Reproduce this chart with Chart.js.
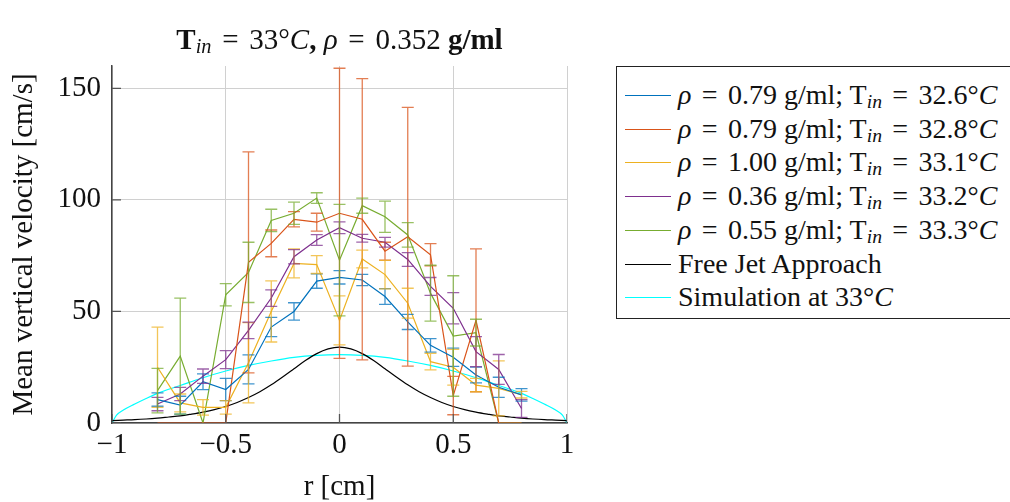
<!DOCTYPE html>
<html>
<head>
<meta charset="utf-8">
<script src="https://cdn.jsdelivr.net/npm/chart.js@4"></script>
<style>
body { margin:0; background:#fff; font-family:'Liberation Serif', 'Times New Roman', serif; color:#111; }
#wrap { position:relative; width:1010px; height:502px; overflow:hidden; }
#plot { position:absolute; left:0; top:0; width:600px; height:502px; }
#title { position:absolute; left:112px; width:455px; top:22px; text-align:center; font-size:29px; line-height:34px; white-space:nowrap; }
#title sub, .row sub { font-size:0.7em; position:relative; top:4px; vertical-align:baseline; }
.eq { margin:0 0.12em; }
#legend { position:absolute; left:616px; top:66px; width:420px; height:251px; border:1px solid #222; }
.row { position:absolute; left:8px; height:34px; line-height:34px; font-size:28px; white-space:nowrap; }
.sw { position:absolute; left:0; top:17px; width:46px; height:0; border-top:1px solid; }
.txt { position:absolute; left:53px; top:0; }
</style>
</head>
<body>
<div id="wrap">
  <div id="plot"><canvas id="chart"></canvas></div>
  <div id="title"><b>T</b><sub><i>in</i></sub> <span class="eq">=</span> 33°<i>C</i><b>,</b> <i>ρ</i> <span class="eq">=</span> 0.352 <b>g/ml</b></div>
  <div id="legend"></div>
</div>
<script>
// measurement positions (cm)
const radius = [-0.8, -0.7, -0.6, -0.5, -0.4, -0.3, -0.2, -0.1, 0, 0.1, 0.2, 0.3, 0.4, 0.5, 0.6, 0.7, 0.8];

// mean vertical velocity (cm/s) and error for each run
const blue      = [10.5, 8, 18.5, 15, 24, 43, 50, 63.6, 65.3, 64.1, 56.7, 45.3, 34.8, 29.5, 21.5, 16, 12.6];
const blueErr   = [3, 4, 3.5, 5, 6.5, 4.3, 3.9, 3.2, 3, 2.5, 3.5, 3.4, 3, 4.1, 3.5, 4.5, 2.8];
const orange    = [0, 0, 0, 0, 72, 80.5, 91.3, 90, 94, 91.3, 77, 83.5, 75.4, 12.3, 46, 0, 0];
const orangeErr = [0, 0, 0, 0, 49.5, 6, 3.4, 4, 65, 63, 4, 58, 5, 8.6, 32, 0, 0];
const yellow    = [25, 9, 7, 7, 27, 50, 71.5, 71, 46, 73.5, 66.5, 53.7, 27.5, 25, 17, 15.5, 12.7];
const yellowErr = [18, 4, 3.5, 3, 18, 13.7, 6.5, 4, 11, 4, 6.4, 6.7, 3.7, 8, 3, 12.3, 1.5];
const purple    = [8.5, 13, 21, 28.4, 41.5, 56, 74.5, 82, 87.5, 82.8, 81, 73.3, 61.2, 51.4, 32, 24, 6.5];
const purpleErr = [3, 3, 3.2, 4, 3.7, 3.7, 3.2, 2.4, 2.6, 1.7, 2.2, 3.1, 4, 7, 6.7, 6.7, 4];
const green     = [14.5, 30, 0, 57.5, 67.5, 90.8, 94, 100.8, 73, 97.4, 92.4, 84.3, 58.2, 39, 40.5, 0, 0];
const greenErr  = [10, 26, 0, 5, 13.5, 5, 5, 2.4, 25, 3.4, 7, 5.5, 12.5, 27, 6, 0, 0];

// free jet approach curve
const jetR = [-1, -0.95, -0.9, -0.85, -0.8, -0.75, -0.7, -0.65, -0.6, -0.55, -0.5, -0.45, -0.4, -0.35, -0.3, -0.25, -0.2, -0.15, -0.1, -0.05,
              0, 0.05, 0.1, 0.15, 0.2, 0.25, 0.3, 0.35, 0.4, 0.45, 0.5, 0.55, 0.6, 0.65, 0.7, 0.75, 0.8, 0.85, 0.9, 0.95, 1];
const jetV = [1.1, 1.3, 1.5, 1.8, 2.2, 2.7, 3.2, 4.0, 4.9, 6.0, 7.4, 9.2, 11.4, 14.0, 17.1, 20.6, 24.3, 28.0, 31.1, 33.2,
              34, 33.2, 31.1, 28.0, 24.3, 20.6, 17.1, 14.0, 11.4, 9.2, 7.4, 6.0, 4.9, 4.0, 3.2, 2.7, 2.2, 1.8, 1.5, 1.3, 1.1];

// simulation curve
const simR = [-1, -0.98, -0.95, -0.9, -0.85, -0.8, -0.7, -0.6, -0.5, -0.4, -0.3, -0.2, -0.1, 0, 0.1, 0.2, 0.3, 0.4, 0.5, 0.6, 0.7, 0.8, 0.85, 0.9, 0.95, 0.98, 1];
const simV = [0, 3.5, 5.8, 8.5, 11, 13.3, 16.8, 20.3, 23.3, 25.8, 27.8, 29.4, 30.3, 30.6, 30.3, 29.4, 27.8, 25.8, 23.3, 20.3, 16.8, 13.3, 11, 8.5, 5.8, 3.5, 0];

const xTicks = [-1, -0.5, 0, 0.5, 1];
const xTickLabels = ['\u22121', '\u22120.5', '0', '0.5', '1'];
const yTicks = [0, 50, 100, 150];

const EQ = '<span class="eq">=</span>';
const seriesNames = [
  '<i>ρ</i> ' + EQ + ' 0.79 g/ml; T<sub><i>in</i></sub> ' + EQ + ' 32.6°<i>C</i>',
  '<i>ρ</i> ' + EQ + ' 0.79 g/ml; T<sub><i>in</i></sub> ' + EQ + ' 32.8°<i>C</i>',
  '<i>ρ</i> ' + EQ + ' 1.00 g/ml; T<sub><i>in</i></sub> ' + EQ + ' 33.1°<i>C</i>',
  '<i>ρ</i> ' + EQ + ' 0.36 g/ml; T<sub><i>in</i></sub> ' + EQ + ' 33.2°<i>C</i>',
  '<i>ρ</i> ' + EQ + ' 0.55 g/ml; T<sub><i>in</i></sub> ' + EQ + ' 33.3°<i>C</i>',
  'Free Jet Approach',
  'Simulation at 33°<i>C</i>'
];
const colors = ['#0072BD', '#D95319', '#EDB120', '#7E2F8E', '#77AC30', '#000000', '#00FFFF'];

function pts(xs, ys) { return xs.map((x, i) => ({ x: x, y: ys[i] })); }

function run(i, vals, errs) {
  return {
    label: seriesNames[i], data: pts(radius, vals), errors: errs,
    borderColor: colors[i], borderWidth: 1.2, pointRadius: 0, tension: 0
  };
}

const errorBars = {
  id: 'errorBars',
  afterDatasetsDraw(chart) {
    const ctx = chart.ctx, xs = chart.scales.x, ys = chart.scales.y, a = chart.chartArea;
    ctx.save();
    ctx.beginPath();
    ctx.rect(a.left, a.top - 1, a.right - a.left, a.bottom - a.top + 1);
    ctx.clip();
    chart.data.datasets.forEach(ds => {
      if (!ds.errors) return;
      ctx.strokeStyle = ds.borderColor;
      ctx.globalAlpha = 0.75;
      ctx.lineWidth = 1.3;
      ds.data.forEach((p, i) => {
        const e = ds.errors[i];
        if (!e) return;
        const x = xs.getPixelForValue(p.x);
        const y1 = ys.getPixelForValue(p.y + e);
        const y2 = ys.getPixelForValue(p.y - e);
        ctx.beginPath();
        ctx.moveTo(x, y1); ctx.lineTo(x, y2);
        ctx.moveTo(x - 6, y1); ctx.lineTo(x + 6, y1);
        ctx.moveTo(x - 6, y2); ctx.lineTo(x + 6, y2);
        ctx.stroke();
      });
    });
    // inward tick marks like the original axes
    ctx.globalAlpha = 1;
    ctx.strokeStyle = '#555';
    ctx.lineWidth = 1.3;
    ctx.beginPath();
    yTicks.forEach(v => {
      const y = ys.getPixelForValue(v);
      ctx.moveTo(a.left, y); ctx.lineTo(a.left + 9, y);
    });
    xTicks.forEach(v => {
      const x = xs.getPixelForValue(v);
      ctx.moveTo(x, a.bottom); ctx.lineTo(x, a.bottom - 9);
    });
    ctx.stroke();
    ctx.restore();
  }
};

const serif = "'Liberation Serif', 'Times New Roman', serif";
const tickFont = { family: serif, size: 29 };
const labelFont = { family: serif, size: 29, lineHeight: 1 };

new Chart(document.getElementById('chart').getContext('2d'), {
  type: 'line',
  data: {
    datasets: [
      run(0, blue, blueErr),
      run(1, orange, orangeErr),
      run(2, yellow, yellowErr),
      run(3, purple, purpleErr),
      run(4, green, greenErr),
      { label: seriesNames[5], data: pts(jetR, jetV), borderColor: colors[5], borderWidth: 1.2, pointRadius: 0, cubicInterpolationMode: 'monotone' },
      { label: seriesNames[6], data: pts(simR, simV), borderColor: colors[6], borderWidth: 1.2, pointRadius: 0, cubicInterpolationMode: 'monotone' }
    ]
  },
  options: {
    responsive: true,
    maintainAspectRatio: false,
    animation: false,
    layout: { padding: { top: 66, right: 33, left: 0, bottom: 0 } },
    plugins: { legend: { display: false }, tooltip: { enabled: false } },
    scales: {
      x: {
        type: 'linear', min: -1, max: 1,
        afterBuildTicks: s => { s.ticks = xTicks.map(v => ({ value: v })); },
        afterFit: s => { s.height = 79; },
        ticks: { color: '#111', font: tickFont, padding: 5, maxRotation: 0,
                 callback: v => xTickLabels[xTicks.indexOf(v)] },
        grid: { color: '#d0d0d0', lineWidth: 1, drawTicks: false },
        border: { color: '#444', width: 1.5 },
        title: { display: true, text: 'r [cm]', color: '#111', font: labelFont, padding: { top: 0, bottom: 0 } }
      },
      y: {
        min: 0, max: 160,
        afterBuildTicks: s => { s.ticks = yTicks.map(v => ({ value: v })); },
        afterFit: s => { s.width = 112; },
        ticks: { color: '#111', font: tickFont, padding: 11 },
        grid: { color: '#d0d0d0', lineWidth: 1, drawTicks: false },
        border: { color: '#444', width: 1.5 },
        title: { display: true, text: 'Mean vertical velocity [cm/s]', color: '#111', font: labelFont, padding: { top: 10, bottom: 0 } }
      }
    }
  },
  plugins: [errorBars]
});

// legend with subscripts as html text
const leg = document.getElementById('legend');
seriesNames.forEach((name, i) => {
  const row = document.createElement('div');
  row.className = 'row';
  row.style.top = Math.round(11 + i * 33.7) + 'px';
  row.innerHTML = '<span class="sw" style="border-color:' + colors[i] + '"></span><span class="txt">' + name + '</span>';
  leg.appendChild(row);
});
</script>
</body>
</html>
